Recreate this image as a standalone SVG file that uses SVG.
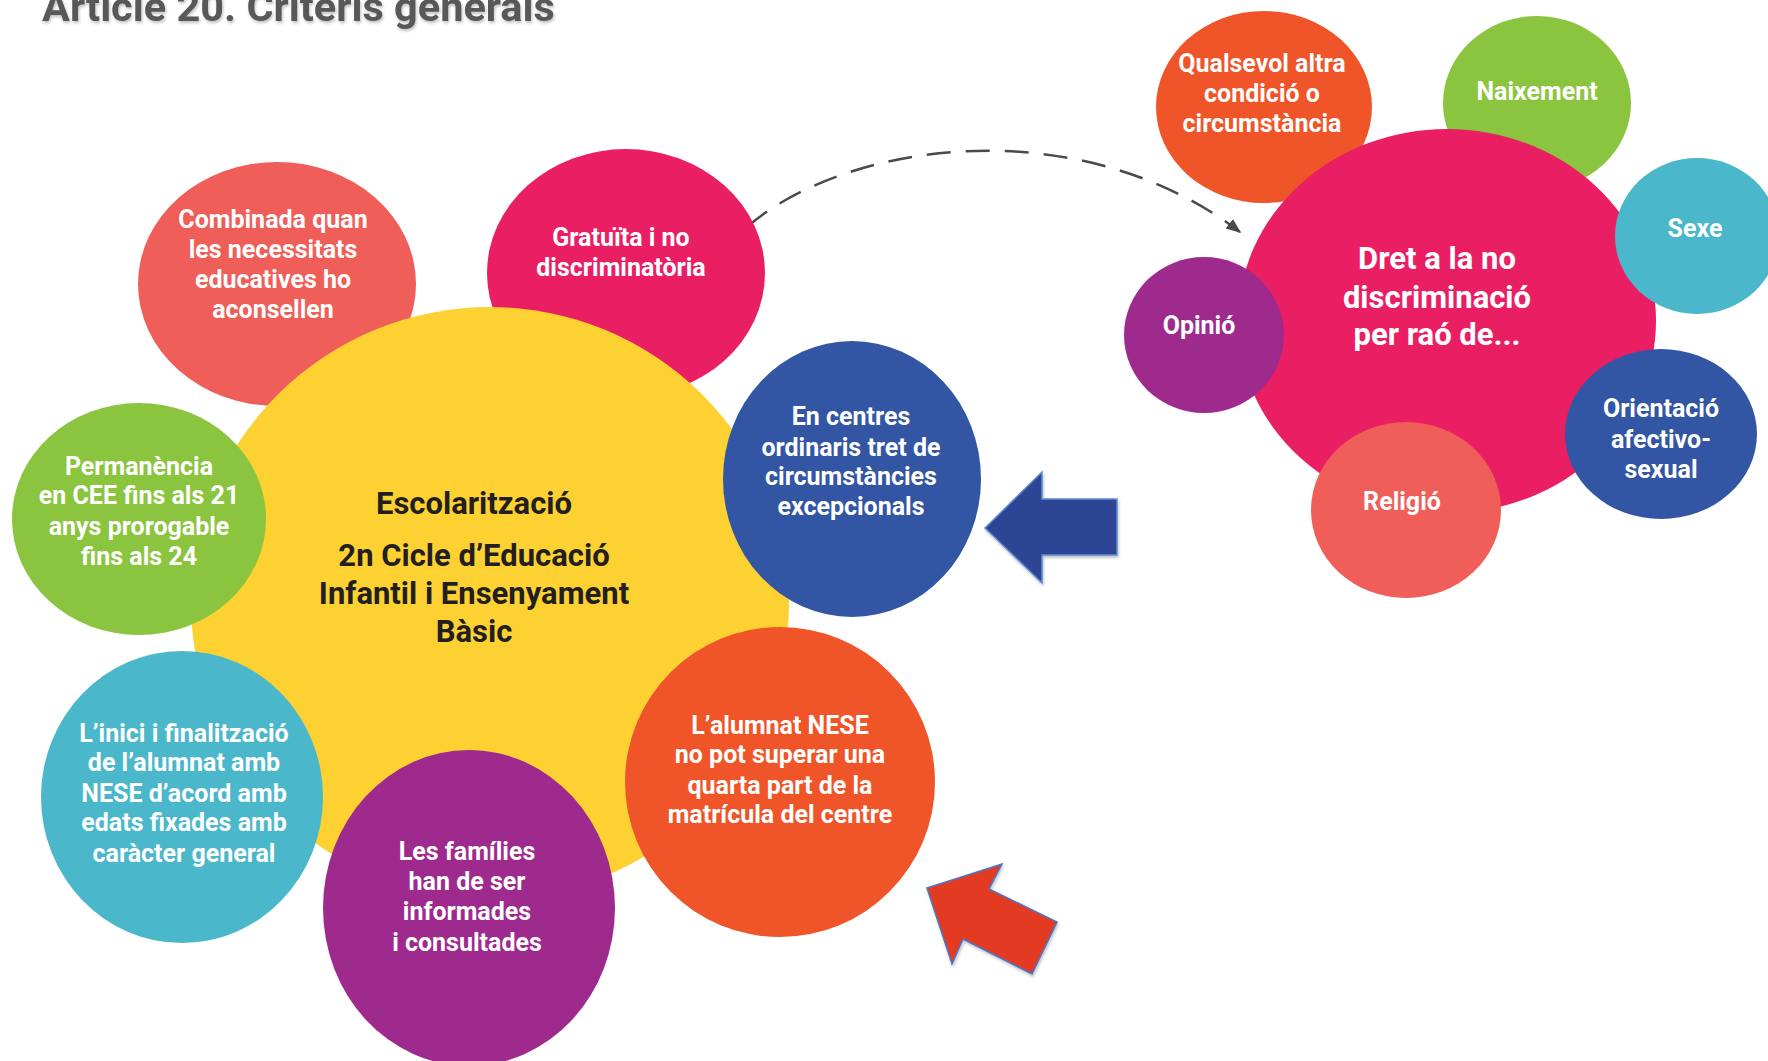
<svg xmlns="http://www.w3.org/2000/svg" width="1768" height="1061" viewBox="0 0 1768 1061">
<defs>
<style>
.t{font-family:Roboto,"Liberation Sans",Arial,sans-serif;font-weight:700;fill:#ffffff;text-anchor:middle;font-size:25px}
.c{font-family:Roboto,"Liberation Sans",Arial,sans-serif;font-weight:700;fill:#231f20;text-anchor:middle;font-size:31px}
.big{font-size:31px}
.title{font-family:Roboto,"Liberation Sans",Arial,sans-serif;font-weight:700;fill:#585858;font-size:41.5px}
.dash{fill:none;stroke:#4a4a4a;stroke-width:2.5;stroke-dasharray:24 15}
</style>
<marker id="ah" viewBox="0 0 10 10" refX="9" refY="5" markerWidth="6" markerHeight="6" orient="auto" markerUnits="strokeWidth">
<path d="M0,1 L10,5 L0,9 z" fill="#4a4a4a"/>
</marker>
<filter id="sh" x="-10%" y="-10%" width="120%" height="140%">
<feDropShadow dx="1" dy="2" stdDeviation="1.5" flood-color="#000" flood-opacity="0.25"/>
</filter>
</defs>
<rect width="1768" height="1061" fill="#ffffff"/>
<text class="title" x="42" y="21" filter="url(#sh)">Article 20. Criteris generals</text>

<g id="connectors">
<path class="dash" d="M748,226 C850,140 1080,110 1240,232" marker-end="url(#ah)"/>
</g>

<g id="n-combinada">
<ellipse cx="277" cy="284" rx="139" ry="122" fill="#EF5E58"/>
<text class="t"><tspan x="273" y="228">Combinada quan</tspan><tspan x="273" y="258">les necessitats</tspan><tspan x="273" y="288">educatives ho</tspan><tspan x="273" y="318">aconsellen</tspan></text>
</g>
<g id="n-gratuita">
<ellipse cx="626" cy="273" rx="139" ry="124" fill="#EA1F63"/>
<text class="t"><tspan x="621" y="246">Gratuïta i no</tspan><tspan x="621" y="276">discriminatòria</tspan></text>
</g>
<g id="n-escolaritzacio">
<ellipse cx="490" cy="603" rx="299" ry="296" fill="#FDD132"/>
<text class="c"><tspan x="474" y="514">Escolarització</tspan><tspan x="474" y="566">2n Cicle d’Educació</tspan><tspan x="474" y="604">Infantil i Ensenyament</tspan><tspan x="474" y="642">Bàsic</tspan></text>
</g>
<g id="n-permanencia">
<ellipse cx="139" cy="519" rx="127" ry="116" fill="#8BC53F"/>
<text class="t"><tspan x="139" y="475">Permanència</tspan><tspan x="139" y="504">en CEE fins als 21</tspan><tspan x="139" y="535">anys prorogable</tspan><tspan x="139" y="565">fins als 24</tspan></text>
</g>
<g id="n-inici">
<ellipse cx="182" cy="797" rx="141" ry="146" fill="#4BB7CA"/>
<text class="t"><tspan x="184" y="742">L’inici i finalització</tspan><tspan x="184" y="771">de l’alumnat amb</tspan><tspan x="184" y="802">NESE d’acord amb</tspan><tspan x="184" y="831">edats fixades amb</tspan><tspan x="184" y="862">caràcter general</tspan></text>
</g>
<g id="n-families">
<ellipse cx="469" cy="908" rx="146" ry="158" fill="#9F2A8D"/>
<text class="t"><tspan x="467" y="860">Les famílies</tspan><tspan x="467" y="890">han de ser</tspan><tspan x="467" y="920">informades</tspan><tspan x="467" y="951">i consultades</tspan></text>
</g>
<g id="n-centres">
<ellipse cx="852" cy="479" rx="129" ry="138" fill="#3255A4"/>
<text class="t"><tspan x="851" y="425">En centres</tspan><tspan x="851" y="456">ordinaris tret de</tspan><tspan x="851" y="485">circumstàncies</tspan><tspan x="851" y="515">excepcionals</tspan></text>
</g>
<g id="n-nese">
<ellipse cx="780" cy="782" rx="155" ry="155" fill="#EF5528"/>
<text class="t"><tspan x="780" y="734">L’alumnat NESE</tspan><tspan x="780" y="763">no pot superar una</tspan><tspan x="780" y="794">quarta part de la</tspan><tspan x="780" y="823">matrícula del centre</tspan></text>
</g>

<g id="n-qualsevol">
<ellipse cx="1264" cy="107" rx="108" ry="96" fill="#EF5528"/>
<text class="t"><tspan x="1262" y="72">Qualsevol altra</tspan><tspan x="1262" y="102">condició o</tspan><tspan x="1262" y="132">circumstància</tspan></text>
</g>
<g id="n-naixement">
<ellipse cx="1537" cy="103" rx="94" ry="87" fill="#8BC53F"/>
<text class="t" x="1537" y="100">Naixement</text>
</g>
<g id="n-dret">
<ellipse cx="1447" cy="321" rx="209" ry="192" fill="#EA1F63"/>
<text class="t big"><tspan x="1437" y="269">Dret a la no</tspan><tspan x="1437" y="308">discriminació</tspan><tspan x="1437" y="345">per raó de...</tspan></text>
</g>
<g id="n-sexe">
<ellipse cx="1697" cy="236" rx="82" ry="78" fill="#4BB7CA"/>
<text class="t" x="1695" y="237">Sexe</text>
</g>
<g id="n-opinio">
<ellipse cx="1204" cy="335" rx="80" ry="78" fill="#9F2A8D"/>
<text class="t" x="1199" y="334">Opinió</text>
</g>
<g id="n-orientacio">
<ellipse cx="1661" cy="434" rx="96" ry="85" fill="#3255A4"/>
<text class="t"><tspan x="1661" y="417">Orientació</tspan><tspan x="1661" y="448">afectivo-</tspan><tspan x="1661" y="478">sexual</tspan></text>
</g>
<g id="n-religio">
<ellipse cx="1406" cy="510" rx="95" ry="88" fill="#EF5E58"/>
<text class="t" x="1402" y="510">Religió</text>
</g>

<g id="arrow-blue">
<polygon points="985,528 1042,472 1042,499 1117,499 1117,555 1042,555 1042,583" fill="#2E4595" stroke="#5B8FD0" stroke-width="1.5" filter="url(#sh)"/>
</g>
<g id="arrow-red">
<polygon points="927,888 1002,864 989,889 1057,922 1032,974 963,939 952,964" fill="#E23B24" stroke="#4A76C8" stroke-width="1.5" filter="url(#sh)"/>
</g>
</svg>
